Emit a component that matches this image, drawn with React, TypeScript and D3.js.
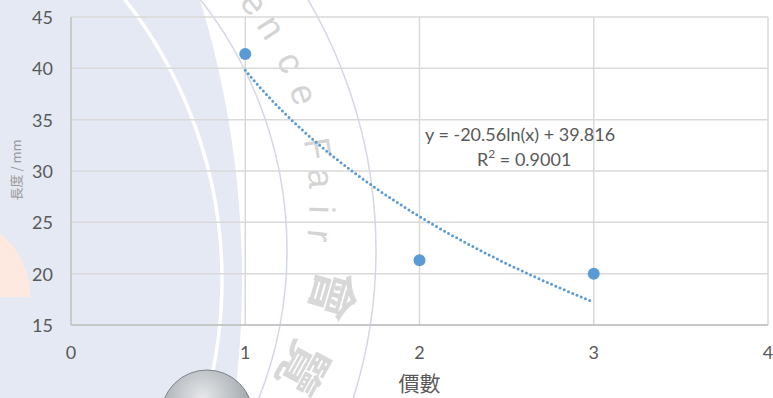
import React from "react";
import * as d3 from "d3";

// ---- data ----
const valences = [1, 2, 3];
const amounts = [41.4, 21.3, 20.0];
const xTicks = [0, 1, 2, 3, 4];
const yTicks = [15, 20, 25, 30, 35, 40, 45];
const trendSlope = -20.56;
const trendIntercept = 39.816;
const rSquared = 0.9001;
const xTitle = "價數";
const yTitle = "長度 / mm";
const watermarkLetters = ["e", "n", "c", "e", "F", "a", "i", "r"];
const watermarkAngles = [-37.8, -32.5, -25.3, -19.2, -9.2, -3.9, 1.7, 6.4];
const watermarkHan = ["會", "覽"];
const watermarkHanAngles = [15.9, 29];

const W = 773;
const H = 398;
const BLUE = "#5b9bd5";
const FONT = "Lato, 'Open Sans', sans-serif";

export default function App() {
  const x = d3.scaleLinear().domain([0, 4]).range([71, 768]);
  const y = d3.scaleLinear().domain([15, 45]).range([325, 17]);

  const trendX = d3.range(1, 3.0001, 0.02);
  const trendLine = d3
    .line<number>()
    .x((v) => x(v))
    .y((v) => y(trendSlope * Math.log(v) + trendIntercept))(trendX);

  const wcx = 0;
  const wcy = 200;
  const place = (deg: number, r: number) => {
    const a = (deg * Math.PI) / 180;
    return { px: wcx + r * Math.cos(a), py: wcy + r * Math.sin(a), rot: deg + 90 };
  };

  return (
    <svg
      width={W}
      height={H}
      style={{ position: "fixed", left: 0, top: 0, background: "#fff" }}
      fontFamily={FONT}
    >
      <defs>
        <radialGradient id="sphere" cx="45%" cy="30%" r="70%">
          <stop offset="0%" stopColor="#e6e8ea" />
          <stop offset="55%" stopColor="#b4b9be" />
          <stop offset="100%" stopColor="#858b91" />
        </radialGradient>
      </defs>
      {/* background watermark */}
      <rect x={0} y={0} width={W} height={H} fill="#ffffff" />
      <circle cx={-712} cy={280} r={954} fill="#e4e9f3" />
      <circle cx={-231} cy={280} r={453} fill="none" stroke="#ffffff" strokeWidth={3.5} />
      <path d="M -135.3 297 A 82.8 82.8 0 0 1 30.3 297 Z" fill="#fde9df" />
      <circle cx={-118} cy={250} r={494} fill="none" stroke="#d3d8e4" strokeWidth={1.5} />
      <circle cx={-118} cy={250} r={405} fill="none" stroke="#d3d8e4" strokeWidth={1.5} />
      {watermarkLetters.map((ch, i) => {
        const p = place(watermarkAngles[i], 322);
        return (
          <text
            key={"wl" + i}
            x={p.px}
            y={p.py}
            transform={`rotate(${p.rot},${p.px},${p.py})`}
            textAnchor="middle"
            dominantBaseline="central"
            fontSize={36}
            fontFamily="'Liberation Sans', Arial, sans-serif"
            fill="#d4d4d4"
          >
            {ch}
          </text>
        );
      })}
      {watermarkHan.map((ch, i) => {
        const p = place(watermarkHanAngles[i], 350);
        return (
          <text
            key={"wh" + i}
            x={p.px}
            y={p.py}
            transform={`rotate(${p.rot},${p.px},${p.py})`}
            textAnchor="middle"
            dominantBaseline="central"
            fontSize={50}
            fontWeight="bold"
            fontFamily="'Noto Sans CJK TC', sans-serif"
            fill="#d8d8d8"
          >
            {ch}
          </text>
        );
      })}
      <circle cx={207} cy={416} r={46} fill="url(#sphere)" stroke="#7d8389" strokeWidth={1} />

      {/* gridlines */}
      {yTicks.map((t) => (
        <line key={"gy" + t} x1={x(0)} x2={x(4)} y1={y(t)} y2={y(t)} stroke="#d9d9d9" strokeWidth={1.5} />
      ))}
      {xTicks.slice(1).map((t) => (
        <line key={"gx" + t} x1={x(t)} x2={x(t)} y1={y(15)} y2={y(45)} stroke="#d9d9d9" strokeWidth={1.5} />
      ))}
      {/* axes */}
      <line x1={x(0)} x2={x(0)} y1={y(15)} y2={y(45)} stroke="#bfbfbf" strokeWidth={1.5} />
      <line x1={x(0)} x2={x(4)} y1={y(15)} y2={y(15)} stroke="#bfbfbf" strokeWidth={1.5} />

      {/* tick labels */}
      {yTicks.map((t) => (
        <text key={"ly" + t} x={53} y={y(t)} textAnchor="end" dominantBaseline="central" fontSize={18} fill="#595959">
          {t}
        </text>
      ))}
      {xTicks.map((t) => (
        <text key={"lx" + t} x={x(t)} y={352} textAnchor="middle" dominantBaseline="central" fontSize={18} fill="#595959">
          {t}
        </text>
      ))}
      <text x={x(2)} y={382} textAnchor="middle" dominantBaseline="central" fontSize={21} fill="#595959"
        fontFamily="'Noto Sans CJK TC', sans-serif">
        {xTitle}
      </text>
      <text x={15} y={170} transform="rotate(-90,15,170)" textAnchor="middle" dominantBaseline="central"
        fontSize={13} fill="#9a9a9a" fontFamily="'Noto Sans CJK TC', sans-serif">
        {yTitle}
      </text>

      {/* trendline */}
      <path d={trendLine ?? ""} fill="none" stroke={BLUE} strokeWidth={3} strokeLinecap="round" strokeDasharray="0 4.6" />

      {/* points */}
      {valences.map((v, i) => (
        <circle key={"p" + i} cx={x(v)} cy={y(amounts[i])} r={6} fill={BLUE} />
      ))}

      {/* equation */}
      <text x={425} y={134} dominantBaseline="central" fontSize={18} fill="#595959">
        {`y = ${trendSlope}ln(x) + ${trendIntercept}`}
      </text>
      <text x={477} y={159} dominantBaseline="central" fontSize={18} fill="#595959">
        R<tspan dy={-6} fontSize={12}>2</tspan>
        <tspan dy={6}>{` = ${rSquared}`}</tspan>
      </text>
    </svg>
  );
}
